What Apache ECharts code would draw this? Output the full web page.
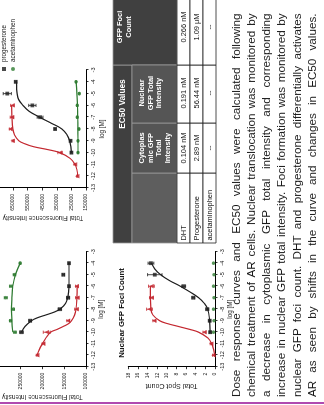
<!DOCTYPE html>
<html><head><meta charset="utf-8">
<script src="https://cdn.jsdelivr.net/npm/echarts@6/dist/echarts.min.js"></script>
<style>
html,body{margin:0;padding:0;background:#fff;width:324px;height:405px;overflow:hidden;}
#rot{position:absolute;left:0;top:0;width:405px;height:324px;transform-origin:0 0;transform:translate(0px,405px) rotate(-90deg);background:#fff;overflow:hidden;}
#chart{position:absolute;left:0;top:0;width:405px;height:324px;}
#para{position:absolute;left:8px;top:227.5px;width:383.5px;font-family:"Liberation Sans",Arial,sans-serif;font-size:11.7px;line-height:15.3px;color:#1a1a1a;}
#para div{text-align:justify;text-align-last:justify;}
#bar{position:absolute;left:0.7px;top:0;width:2px;height:324px;background:#b04ab0;}
</style></head>
<body>
<div id="rot"><div id="chart"></div><div id="para"></div><div id="bar"></div></div>
<script>
// ---------- data ----------
const logTicks = [-13,-12,-11,-10,-9,-8,-7,-6,-5,-4,-3];
const cytoYTicks = [100000,150000,200000,250000,300000];
const nucYTicks = [150000,250000,350000,450000,550000,650000];
const fociYTicks = [0,2,4,6,8,10,12,14,16,18];

const concDHT = [-12,-11,-10,-9,-8,-7,-6];
const concProg = [-10,-9,-8,-7,-6,-5,-4];
const concAcet = [-10,-9,-8,-7,-6,-5,-4];

// Cytoplasmic GFP total intensity (upper left)
const cytoDHT = [212000,198000,190000,141000,122000,120000,121000];
const cytoDHTsem = [2000,2500,8000,3000,4000,4000,3000];
const cytoProg = [248000,228000,160000,141000,139000,152000,139000];
const cytoProgSem = [4000,3000,4000,3500,1500,2500,1500];
const cytoAcet = [263000,273000,267000,284000,272000,264000,251000];
const cytoAcetSem = [3000,2500,3000,3500,3500,3000,1500];
const cytoFitDHTx = [-12,-11.5,-11,-10.5,-10,-9.75,-9.5,-9.25,-9,-8.5,-8,-7,-6];
const cytoFitDHTy = [212000,207000,200000,192000,181000,166000,152000,140000,133000,126000,123000,121000,120500];
const cytoFitProgx = [-10,-9.5,-9,-8.75,-8.5,-8.25,-8,-7.5,-7,-6.5,-6,-5,-4];
const cytoFitProgy = [248000,240000,225000,212000,192000,173000,160000,147000,142000,140000,139000,139000,139000];
const cytoFitAcetx = [-10,-9,-8,-7,-6,-5,-4];
const cytoFitAcety = [268000,270000,271000,270000,268000,262000,251000];

// Nuclear GFP total intensity (upper right)
const nucDHT = [210000,226000,328000,652000,668000,658000,655000];
const nucDHTsem = [4000,6000,15000,5000,8000,12000,12000];
const nucProg = [250000,256000,362000,465000,518000,690000,632000];
const nucProgSem = [5000,4000,6000,20000,25000,28000,6000];
const nucAcet = [205000,205000,198000,210000,210000,196000,218000];
const nucAcetSem = [4000,3000,3000,4000,4000,4000,3000];
const nucFitDHTx = [-12,-11.5,-11,-10.5,-10,-9.75,-9.5,-9.25,-9,-8.5,-8,-7,-6];
const nucFitDHTy = [207000,212000,225000,258000,330000,410000,510000,570000,610000,640000,652000,658000,660000];
const nucFitProgx = [-10,-9.5,-9,-8.5,-8,-7.5,-7.25,-7,-6.5,-6,-5.5,-5,-4.5,-4];
const nucFitProgy = [250000,254000,262000,280000,315000,390000,430000,468000,540000,582000,612000,622000,626000,628000];
const nucFitAcetx = [-10,-9,-8,-7,-6,-5,-4];
const nucFitAcety = [205000,205000,206000,207000,209000,212000,218000];

// Nuclear GFP foci count (lower left)
const fociDHT = [0.3,0.8,2.2,12.6,13.6,13.2,13.2];
const fociDHTsem = [0.2,0.2,0.3,0.3,0.6,0.4,0.6];
const fociProg = [1.0,1.1,1.6,4.5,6.5,12.5,13.3];
const fociProgSem = [0.2,0.2,0.3,0.3,0.4,1.5,0.6];
const fociAcet = [0.3,0.2,0.3,0.2,0.3,0.2,0.3];
const fociFitDHTx = [-12,-11.5,-11,-10.5,-10,-9.75,-9.5,-9.25,-9,-8.5,-8,-7,-6];
const fociFitDHTy = [0.1,0.3,0.7,1.5,3.4,5.3,7.6,9.9,11.5,12.9,13.3,13.4,13.4];
const fociFitProgx = [-10,-9,-8,-7.5,-7,-6.5,-6,-5.5,-5,-4.5,-4];
const fociFitProgy = [1.0,1.1,1.5,2.2,3.4,5.2,7.2,9.5,11.3,12.5,13.2];

// EC50 table
const tableTitle = 'EC50 Values';
const tableRowNames = ['DHT','Progesterone','acetaminophen'];
const tableColHeads = [['Cytoplas','mic GFP','Total','Intensity'],['Nuclear','GFP Total','Intensity'],['GFP Foci','Count']];
const tableValues = [['0.104 nM','0.191 nM','0.266 nM'],['2.89 nM','56.44 nM','1.09 \u03bcM'],['--','--','--']];

const paragraphLines = [
 'Dose response curves and EC50 values were calculated following',
 'chemical treatment of AR cells. Nuclear translocation was monitored by',
 'a decrease in cytoplasmic GFP total intensity and corresponding',
 'increase in nuclear GFP total intensity. Foci formation was monitored by',
 'nuclear GFP foci count. DHT and progesterone differentially activates',
 'AR as seen by shifts in the curve and changes in EC50 values.'
];

// ---------- rendering ----------
const FONT = '"Liberation Sans", Arial, sans-serif';
const RED = '#c3272f', BLACK = '#1e1e1e', GREEN = '#2d7a30';
document.getElementById('para').innerHTML = paragraphLines.map(l => '<div>' + l + '</div>').join('');

const zip = (xs, ys) => xs.map((x, i) => [x, ys[i]]);
const zipErr = (xs, ys, es) => xs.map((x, i) => [x, ys[i] - es[i], ys[i] + es[i]]);

function errRender(params, api) {
  const x = api.value(0), lo = api.value(1), hi = api.value(2);
  const p1 = api.coord([x, lo]), p2 = api.coord([x, hi]);
  const c = api.visual('color'), cap = 1.6;
  const st = {stroke: c, lineWidth: 0.8};
  return {type: 'group', children: [
    {type: 'line', shape: {x1: p1[0], y1: p1[1], x2: p2[0], y2: p2[1]}, style: st},
    {type: 'line', shape: {x1: p1[0] - cap, y1: p1[1], x2: p1[0] + cap, y2: p1[1]}, style: st},
    {type: 'line', shape: {x1: p2[0] - cap, y1: p2[1], x2: p2[0] + cap, y2: p2[1]}, style: st}
  ]};
}

function xAxisFor(gi, gap) {
  return {gridIndex: gi, type: 'value', min: -13, max: -3, interval: 1,
    name: 'log [M]', nameLocation: 'middle', nameGap: gap,
    nameTextStyle: {fontSize: 6.3, color: BLACK, fontFamily: FONT},
    axisLine: {onZero: false, lineStyle: {color: '#000', width: 1}},
    axisTick: {length: 2.5, lineStyle: {color: '#000', width: 0.8}, customValues: logTicks},
    axisLabel: {fontSize: 5.5, color: BLACK, margin: 4.5, fontFamily: FONT, customValues: logTicks, formatter: v => String(v)},
    splitLine: {show: false}};
}
function yAxisFor(gi, min, max, ticks, name, gap, nameSize) {
  return {gridIndex: gi, type: 'value', min: min, max: max,
    name: name, nameLocation: 'middle', nameGap: gap,
    nameTextStyle: {fontSize: nameSize, color: BLACK, fontFamily: FONT},
    axisLine: {onZero: false, lineStyle: {color: '#000', width: 1}},
    axisTick: {length: 2.5, lineStyle: {color: '#000', width: 0.8}, customValues: ticks},
    axisLabel: {fontSize: 5, color: BLACK, margin: 6, fontFamily: FONT, customValues: ticks, formatter: v => String(v)},
    splitLine: {show: false}};
}

const series = [];
function addSet(gi, pts, fit, err, color, name, symbol, size) {
  series.push({type: 'line', xAxisIndex: gi, yAxisIndex: gi, data: fit, smooth: 0.4, showSymbol: false,
    lineStyle: {color: color, width: 1.2}, silent: true, z: 2, name: name + ' fit'});
  if (err) series.push({type: 'custom', xAxisIndex: gi, yAxisIndex: gi, data: err, renderItem: errRender,
    itemStyle: {color: color}, z: 3, silent: true, name: name + ' sem'});
  series.push({type: 'scatter', xAxisIndex: gi, yAxisIndex: gi, data: pts, symbol: symbol, symbolSize: size,
    itemStyle: {color: color}, z: 4, name: name});
}
// grid 0: cytoplasmic
addSet(0, zip(concDHT, cytoDHT), zip(cytoFitDHTx, cytoFitDHTy), zipErr(concDHT, cytoDHT, cytoDHTsem), RED, 'DHT', 'triangle', 4.5);
addSet(0, zip(concProg, cytoProg), zip(cytoFitProgx, cytoFitProgy), zipErr(concProg, cytoProg, cytoProgSem), BLACK, 'progesterone', 'rect', 3.8);
addSet(0, zip(concAcet, cytoAcet), zip(cytoFitAcetx, cytoFitAcety), zipErr(concAcet, cytoAcet, cytoAcetSem), GREEN, 'acetaminophen', 'circle', 3.6);
// grid 1: nuclear
addSet(1, zip(concDHT, nucDHT), zip(nucFitDHTx, nucFitDHTy), zipErr(concDHT, nucDHT, nucDHTsem), RED, 'DHT', 'triangle', 4.5);
addSet(1, zip(concProg, nucProg), zip(nucFitProgx, nucFitProgy), zipErr(concProg, nucProg, nucProgSem), BLACK, 'progesterone', 'rect', 3.8);
addSet(1, zip(concAcet, nucAcet), zip(nucFitAcetx, nucFitAcety), zipErr(concAcet, nucAcet, nucAcetSem), GREEN, 'acetaminophen', 'circle', 3.6);
// grid 2: foci
addSet(2, zip(concDHT, fociDHT), zip(fociFitDHTx, fociFitDHTy), zipErr(concDHT, fociDHT, fociDHTsem), RED, 'DHT', 'triangle', 4.5);
addSet(2, zip(concProg, fociProg), zip(fociFitProgx, fociFitProgy), zipErr(concProg, fociProg, fociProgSem), BLACK, 'progesterone', 'rect', 3.8);
series.push({type: 'scatter', xAxisIndex: 2, yAxisIndex: 2, data: zip(concAcet, fociAcet), symbol: 'circle', symbolSize: 3.6,
  itemStyle: {color: GREEN}, z: 4, name: 'acetaminophen'});

// table graphic
const tc = [162, 232, 282, 340, 416];
const tr = [113, 132, 177, 190, 203, 216];
const colCenters = [257, 312, 378];
const g = [];
const hdStroke = '#9a9a9a';
g.push({type: 'rect', shape: {x: tc[0], y: tr[0], width: tc[3] - tc[0], height: tr[1] - tr[0]}, style: {fill: '#404040', stroke: hdStroke, lineWidth: 0.8}});
g.push({type: 'rect', shape: {x: tc[3], y: tr[0], width: tc[4] - tc[3], height: tr[2] - tr[0]}, style: {fill: '#404040', stroke: hdStroke, lineWidth: 0.8}});
g.push({type: 'rect', shape: {x: tc[0], y: tr[1], width: tc[1] - tc[0], height: tr[2] - tr[1]}, style: {fill: '#5e5e5e', stroke: hdStroke, lineWidth: 0.8}});
for (let c = 1; c <= 2; c++) g.push({type: 'rect', shape: {x: tc[c], y: tr[1], width: tc[c + 1] - tc[c], height: tr[2] - tr[1]}, style: {fill: '#555555', stroke: hdStroke, lineWidth: 0.8}});
g.push({type: 'text', x: 301, y: 123, style: {text: tableTitle, fill: '#fff', fontSize: 8.3, fontWeight: 'bold', fontFamily: FONT, align: 'center', verticalAlign: 'middle'}});
tableColHeads.forEach((lines, ci) => {
  const top = ci === 2 ? 120 : 142;
  lines.forEach((t, li) => g.push({type: 'text', x: colCenters[ci], y: top + li * 8.6,
    style: {text: t, fill: '#fff', fontSize: 7.4, fontWeight: 'bold', fontFamily: FONT, align: 'center', verticalAlign: 'middle'}}));
});
tableRowNames.forEach((name, ri) => {
  const y0 = tr[ri + 2], y1 = tr[ri + 3], yc = (y0 + y1) / 2;
  for (let c = 0; c < 4; c++) g.push({type: 'rect', shape: {x: tc[c], y: y0, width: tc[c + 1] - tc[c], height: y1 - y0}, style: {fill: '#fff', stroke: '#222', lineWidth: 0.8}});
  g.push({type: 'text', x: tc[0] + 2.5, y: yc, style: {text: name, fill: '#111', fontSize: 7.4, fontFamily: FONT, align: 'left', verticalAlign: 'middle'}});
  tableValues[ri].forEach((v, ci) => g.push({type: 'text', x: colCenters[ci], y: yc,
    style: {text: v, fill: '#111', fontSize: 7.4, fontFamily: FONT, align: 'center', verticalAlign: 'middle'}}));
});
g.push({type: 'text', x: 92, y: 121.5, style: {text: 'Nuclear GFP Foci Count', fill: '#111', fontSize: 7.8, fontWeight: 'bold', fontFamily: FONT, align: 'center', verticalAlign: 'middle'}});

const option = {
  animation: false,
  backgroundColor: 'transparent',
  textStyle: {fontFamily: FONT},
  legend: {data: [{name: 'progesterone', icon: 'rect'}, {name: 'acetaminophen', icon: 'circle'}],
    orient: 'vertical', left: 334, top: 1, itemWidth: 4, itemHeight: 4, itemGap: 3, padding: 0,
    textStyle: {fontSize: 6.3, color: BLACK, fontFamily: FONT}},
  grid: [
    {left: 38.3, width: 115, top: -1.2, height: 87.2, outerBoundsMode: 'none', containLabel: false},
    {left: 217, width: 118, top: 0, height: 86, outerBoundsMode: 'none', containLabel: false},
    {left: 38.3, width: 115, top: 128.3, height: 86.7, outerBoundsMode: 'none', containLabel: false}
  ],
  xAxis: [xAxisFor(0, 12.5), xAxisFor(1, 13.5), xAxisFor(2, 12.5)],
  yAxis: [
    yAxisFor(0, 100000, 300000, cytoYTicks, 'Total Fluorescence Intensity', 25, 6.5),
    yAxisFor(1, 150000, 740000, nucYTicks, 'Total Fluorescence Intensity', 20.5, 6.5),
    yAxisFor(2, 0, 18, fociYTicks, 'Total Spot Count', 14, 7)
  ],
  graphic: {elements: g},
  series: series
};
const chart = echarts.init(document.getElementById('chart'), null, {renderer: 'canvas'});
chart.setOption(option);
</script>
</body></html>
